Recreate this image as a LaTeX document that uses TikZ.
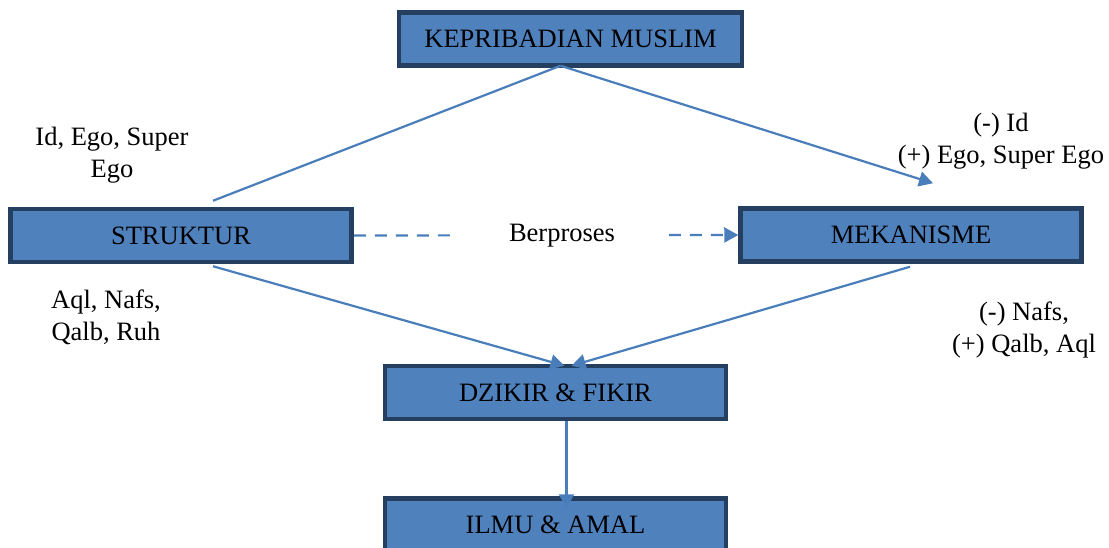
\documentclass[tikz,border=0pt]{standalone}
\usepackage{fontspec}
\setmainfont{Liberation Serif}
\usetikzlibrary{arrows.meta,calc}
\definecolor{boxfill}{HTML}{4F81BD}
\definecolor{boxedge}{HTML}{243F60}
\definecolor{linec}{HTML}{4A7EBB}
\begin{document}
\begin{tikzpicture}[x=1pt,y=-1pt,
  every node/.style={font=\fontsize{26.5}{32}\selectfont},
  box/.style={draw=boxedge, line width=4.5pt, fill=boxfill, minimum width=341pt, minimum height=53pt, inner sep=0pt},
  conn/.style={draw=linec, line width=2.2pt},
  tip/.style={-{Triangle[length=14pt,width=15pt]}},
  lbl/.style={align=center, inner sep=0pt}]
\clip (0,0) rectangle (1109,548);
\fill[white] (0,0) rectangle (1109,548);
% boxes
\node[box, minimum width=343pt] (kep) at (570.5,39) {KEPRIBADIAN MUSLIM};
\node[box] (str) at (181,235.5) {STRUKTUR};
\node[box] (mek) at (911,235) {MEKANISME};
\node[box] (dzi) at (555.5,392.5) {DZIKIR \& FIKIR};
\node[box] (ilm) at (555.5,525) {ILMU \& AMAL};
% labels
\node[lbl] (l1) at (112,155) {Id, Ego, Super\\Ego};
\node[lbl] (l2) at (106,317) {Aql, Nafs,\\Qalb, Ruh};
\node[lbl] (l3) at (1001,141) {(-) Id\\(+) Ego, Super Ego};
\node[lbl] (l4) at (1024,330) {(-) Nafs,\\(+) Qalb, Aql};
% connectors
\coordinate (top) at ($(kep.south)+(-10,-2)$);
\coordinate (sl) at ($(str.north)+(32,-6)$);
\draw[conn] (top) -- (sl);
\draw[conn, tip] (top) -- ($(mek.north)+(22,-23)$);
\draw[conn, tip] ($(str.south)+(32,2)$) -- ($(dzi.north)+(9,2)$);
\draw[conn, tip] ($(mek.south)+(-1,3)$) -- ($(dzi.north)+(16,2)$);
\draw[conn, tip] ($(dzi.south)+(11,0)$) -- ($(ilm.north)+(11,12)$);
\draw[conn, tip, dash pattern=on 12pt off 9pt] (str.east) -- node[pos=0.5416, fill=white, minimum width=213pt, inner sep=2pt] (ber) {Berproses} (mek.west);
\end{tikzpicture}
\end{document}
